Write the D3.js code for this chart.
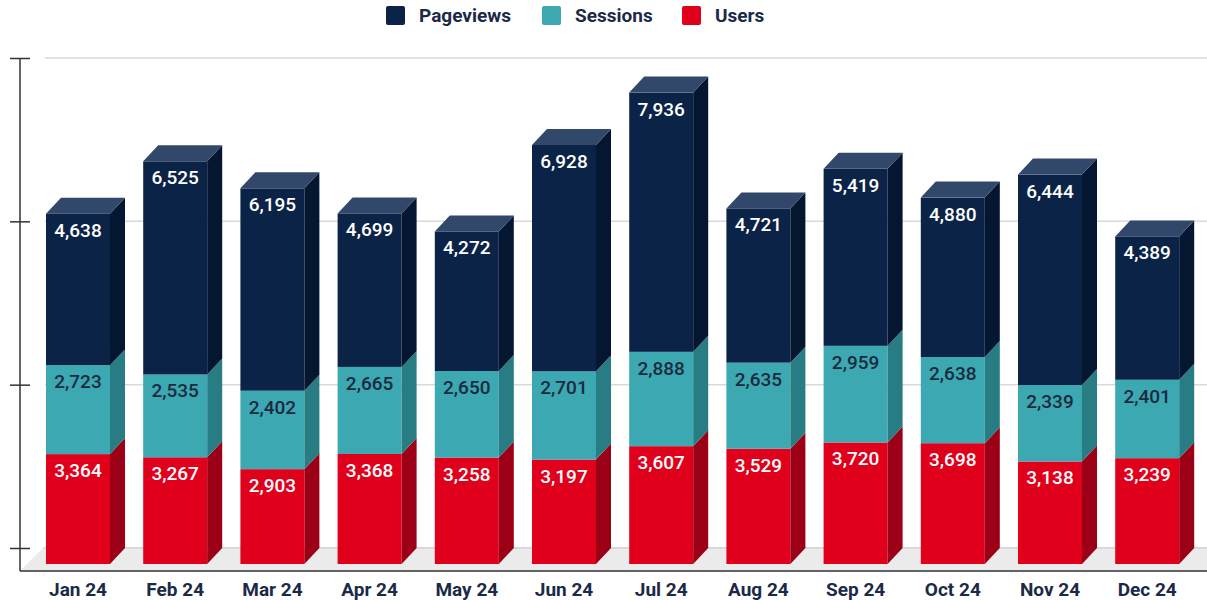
<!DOCTYPE html>
<html>
<head>
<meta charset="utf-8">
<script src="https://cdn.jsdelivr.net/npm/d3@7"></script>
<style>
  html, body { margin: 0; padding: 0; background: #fff; }
  svg { display: block; font-family: Roboto, "Open Sans", sans-serif; }
</style>
</head>
<body>
<svg id="chart" width="1207" height="600"></svg>
<script>
// data
const months = ["Jan 24", "Feb 24", "Mar 24", "Apr 24", "May 24", "Jun 24",
                "Jul 24", "Aug 24", "Sep 24", "Oct 24", "Nov 24", "Dec 24"];
const users = [3364, 3267, 2903, 3368, 3258, 3197, 3607, 3529, 3720, 3698, 3138, 3239];
const sessions = [2723, 2535, 2402, 2665, 2650, 2701, 2888, 2635, 2959, 2638, 2339, 2401];
const pageviews = [4638, 6525, 6195, 4699, 4272, 6928, 7936, 4721, 5419, 4880, 6444, 4389];
const yTicks = [0, 5000, 10000, 15000];

const seriesNames = ["Users", "Sessions", "Pageviews"]; // stacking order, bottom up
const seriesData = { Users: users, Sessions: sessions, Pageviews: pageviews };
const legendOrder = ["Pageviews", "Sessions", "Users"];

const palette = {
  Pageviews: { front: "#0b2346", side: "#041630", top: "#31486a", text: "#ffffff" },
  Sessions:  { front: "#3ba8b2", side: "#287c84", top: "#62bcc4", text: "#1b2a3f" },
  Users:     { front: "#e0001b", side: "#9c0016", top: "#f0404f", text: "#ffffff" }
};

const svg = d3.select("#chart");
const W = +svg.attr("width");

// 3D depth offsets
const DX = 15, DY = 16;
const axisX = 20, floorFront = 571;

const x = d3.scaleBand().domain(months).range([29.4, 1195.8])
  .paddingInner(0.3416).paddingOuter(0.1708);
const y = d3.scaleLinear().domain([0, 15000]).range([548, 58]); // back wall
const yf = v => y(v) + DY; // front face

// gridlines on the back wall
svg.append("g").selectAll("line").data(yTicks).join("line")
  .attr("x1", axisX + 25).attr("x2", W)
  .attr("y1", d => y(d)).attr("y2", d => y(d))
  .attr("stroke", "#d9d9d9").attr("stroke-width", 1.5);

// floor
const floorDepth = floorFront - y(0);
svg.append("polygon")
  .attr("points", [[axisX, floorFront], [W, floorFront], [W, y(0)], [axisX + floorDepth, y(0)]].join(" "))
  .attr("fill", "#ebebeb");
svg.append("line")
  .attr("x1", axisX + floorDepth).attr("x2", W).attr("y1", y(0)).attr("y2", y(0))
  .attr("stroke", "#c9c9c9").attr("stroke-width", 1.2);

// stacked 3D bars
const stack = d3.stack().keys(seriesNames)(months.map((m, i) => ({
  month: m, Users: users[i], Sessions: sessions[i], Pageviews: pageviews[i]
})));

const bars = svg.append("g");
months.forEach((m, i) => {
  const x0 = x(m), x1 = x0 + x.bandwidth();
  stack.forEach((layer, li) => {
    const [v0, v1] = layer[i];
    const c = palette[layer.key];
    const g = bars.append("g");
    g.append("rect")
      .attr("x", x0).attr("y", yf(v1))
      .attr("width", x.bandwidth()).attr("height", yf(v0) - yf(v1))
      .attr("fill", c.front);
    g.append("polygon")
      .attr("points", [[x1, yf(v1)], [x1 + DX, yf(v1) - DY], [x1 + DX, yf(v0) - DY], [x1, yf(v0)]].join(" "))
      .attr("fill", c.side);
    if (li === stack.length - 1) {
      g.append("polygon")
        .attr("points", [[x0, yf(v1)], [x0 + DX, yf(v1) - DY], [x1 + DX, yf(v1) - DY], [x1, yf(v1)]].join(" "))
        .attr("fill", c.top);
    }
    g.append("text")
      .attr("x", (x0 + x1) / 2).attr("y", yf(v1) + 23)
      .attr("text-anchor", "middle")
      .attr("fill", c.text)
      .style("font-size", "19px").style("font-weight", 500)
      .text(d3.format(",")(seriesData[layer.key][i]));
  });
});

// y axis: ticks only, no labels
const yAxis = svg.append("g").attr("transform", `translate(${axisX},0)`)
  .call(d3.axisLeft(y).tickValues(yTicks).tickSize(10).tickFormat(""));
yAxis.select(".domain").remove();
yAxis.selectAll(".tick line").attr("x1", -10).attr("x2", 10)
  .attr("stroke", "#333").attr("stroke-width", 1.5);
svg.append("line")
  .attr("x1", axisX).attr("x2", axisX).attr("y1", y(15000)).attr("y2", floorFront)
  .attr("stroke", "#333").attr("stroke-width", 1.5);

// x axis
const xAxis = svg.append("g").attr("transform", `translate(0,${floorFront})`)
  .call(d3.axisBottom(x).tickSize(0).tickPadding(12));
xAxis.select(".domain").remove();
xAxis.selectAll("text")
  .attr("fill", "#1b2a47")
  .style("font-family", "Roboto, sans-serif")
  .style("font-size", "19px").style("font-weight", 700);
svg.append("line")
  .attr("x1", axisX).attr("x2", W).attr("y1", floorFront).attr("y2", floorFront)
  .attr("stroke", "#333").attr("stroke-width", 1.5);

// legend
const legendX = { Pageviews: 386, Sessions: 542, Users: 682 };
const legend = svg.append("g");
legendOrder.forEach(k => {
  const g = legend.append("g").attr("transform", `translate(${legendX[k]},6)`);
  g.append("rect").attr("width", 19).attr("height", 19).attr("rx", 2)
    .attr("fill", palette[k].front);
  g.append("text").attr("x", 33).attr("y", 15.5)
    .attr("fill", "#1b2a47")
    .style("font-size", "19px").style("font-weight", 700)
    .text(k);
});
</script>
</body>
</html>
